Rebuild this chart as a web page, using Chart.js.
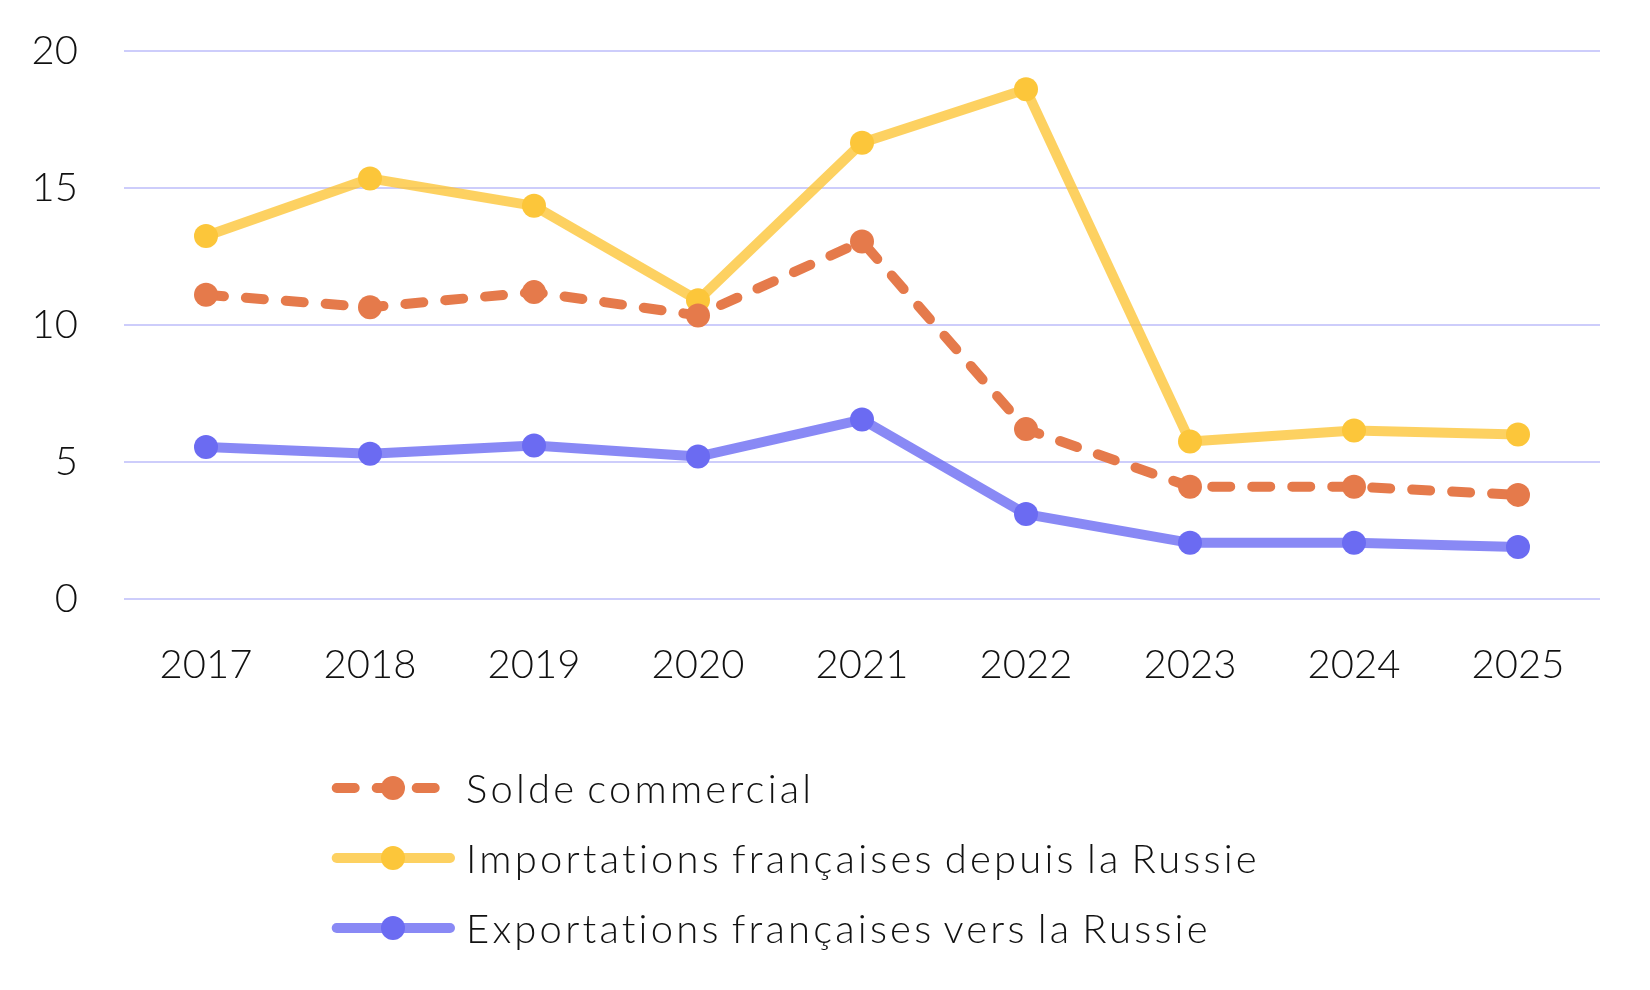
<!DOCTYPE html>
<html lang="fr">
<head>
<meta charset="utf-8">
<title>Commerce France - Russie</title>
<script src="https://cdn.jsdelivr.net/npm/chart.js@4.4.1/dist/chart.umd.min.js"></script>
<style>
  html, body { margin: 0; padding: 0; background: #fff; }
  #wrap { position: relative; width: 1650px; height: 990px; }
  #chart { position: absolute; left: 0; top: 0; }
  .legend { position: absolute; left: 0; top: 0; font-family: Lato, sans-serif; font-weight: 300; font-size: 40px; color: #111; letter-spacing: 3.2px; word-spacing: -4px; }
  .legend .row { position: absolute; left: 326px; height: 40px; display: flex; align-items: center; white-space: nowrap; }
  .legend svg { width: 140px; height: 40px; flex: none; }
</style>
</head>
<body>
<div id="wrap">
  <canvas id="chart" width="1650" height="990"></canvas>
  <div class="legend" id="legend"></div>
</div>
<script>
// values (billions of euros)
const years = ['2017', '2018', '2019', '2020', '2021', '2022', '2023', '2024', '2025'];
const solde = [11.1, 10.65, 11.2, 10.35, 13.05, 6.2, 4.1, 4.1, 3.8];
const importations = [13.25, 15.35, 14.35, 10.9, 16.65, 18.6, 5.75, 6.15, 6.0];
const exportations = [5.55, 5.3, 5.6, 5.2, 6.55, 3.1, 2.05, 2.05, 1.9];
const yTicks = [0, 5, 10, 15, 20];

const labels = {
  solde: 'Solde commercial',
  imp: 'Importations françaises depuis la Russie',
  exp: 'Exportations françaises vers la Russie',
};

const ORANGE = '#e57a4b';
const YELLOW_LINE = 'rgba(252,198,58,0.8)';
const YELLOW = '#fcc63a';
const BLUE_LINE = 'rgba(107,107,242,0.8)';
const BLUE = '#6b6bf2';
const GRID = '#cdcdfb';

function series(label, data, lineColor, pointColor, dash) {
  return {
    label, data,
    borderColor: lineColor,
    backgroundColor: pointColor,
    pointBackgroundColor: pointColor,
    pointBorderWidth: 0,
    pointRadius: 12,
    pointHoverRadius: 12,
    borderWidth: 10,
    borderDash: dash || [],
    borderCapStyle: 'round',
    borderJoinStyle: 'round',
    tension: 0,
    fill: false,
  };
}

const font = { family: 'Lato, sans-serif', size: 40, weight: 300 };

new Chart(document.getElementById('chart'), {
  type: 'line',
  data: {
    labels: years,
    datasets: [
      series(labels.solde, solde, ORANGE, ORANGE, [18, 22]),
      series(labels.imp, importations, YELLOW_LINE, YELLOW),
      series(labels.exp, exportations, BLUE_LINE, BLUE),
    ],
  },
  options: {
    responsive: false,
    devicePixelRatio: 1,
    animation: false,
    layout: { padding: { top: 51, right: 50, bottom: 291, left: 0 } },
    plugins: { legend: { display: false }, tooltip: { enabled: false } },
    scales: {
      x: {
        offset: true,
        grid: { display: false },
        border: { display: false },
        ticks: { color: '#111', font, padding: 34 },
        afterFit: (axis) => { axis.height = 100; },
      },
      y: {
        min: 0, max: 20,
        afterBuildTicks: (axis) => { axis.ticks = yTicks.map(v => ({ value: v })); },
        grid: { color: GRID, lineWidth: 2, drawTicks: false },
        border: { display: false },
        ticks: { color: '#111', font, padding: 46 },
        // tick padding would otherwise push the plot area down
        afterFit: (axis) => { axis.width = 124; axis.paddingTop = 24; axis.paddingBottom = 24; },
      },
    },
  },
});

// legend: three stacked rows, line sample + dot + text
const rows = [
  { text: labels.solde, line: ORANGE, dot: ORANGE, dash: '18 22', y: 788 },
  { text: labels.imp, line: YELLOW_LINE, dot: YELLOW, dash: '', y: 858 },
  { text: labels.exp, line: BLUE_LINE, dot: BLUE, dash: '', y: 928 },
];
document.getElementById('legend').innerHTML = rows.map(r => `
  <div class="row" style="top:${r.y - 20}px">
    <svg viewBox="0 0 140 40">
      <line x1="10.7" y1="20" x2="124" y2="20" stroke="${r.line}" stroke-width="10" stroke-linecap="round" ${r.dash ? `stroke-dasharray="${r.dash}"` : ''}/>
      <circle cx="67" cy="20" r="12" fill="${r.dot}"/>
    </svg>
    <span>${r.text}</span>
  </div>`).join('');
</script>
</body>
</html>
